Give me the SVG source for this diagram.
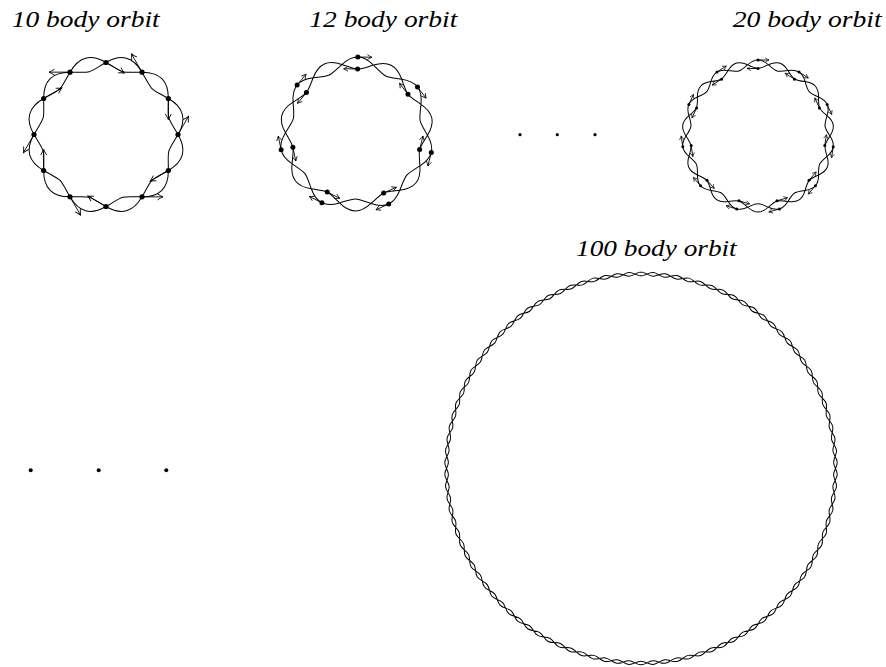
<svg xmlns="http://www.w3.org/2000/svg" width="886" height="667" viewBox="0 0 886 667">
<style>
.lbl{font-family:"Liberation Serif","Times New Roman",serif;font-style:italic;font-size:24px;fill:#000}
.str{fill:none;stroke:#000;stroke-width:1}
.arr{stroke:#000;stroke-width:0.9;fill:none}
</style>
<defs>
<marker id="ah10" viewBox="-7 -4 8 8" refX="0" refY="0" markerWidth="8" markerHeight="8" markerUnits="userSpaceOnUse" orient="auto"><path d="M-5.5,-3 Q-2,-0.8 0,0 Q-2,0.8 -5.5,3" fill="none" stroke="#000" stroke-width="0.9"/></marker>
<marker id="ah12" viewBox="-6 -3.5 7 7" refX="0" refY="0" markerWidth="7" markerHeight="7" markerUnits="userSpaceOnUse" orient="auto"><path d="M-4.5,-2.5 Q-1.6,-0.7 0,0 Q-1.6,0.7 -4.5,2.5" fill="none" stroke="#000" stroke-width="0.8"/></marker>
<marker id="ah20" viewBox="-5 -3 6 6" refX="0" refY="0" markerWidth="6" markerHeight="6" markerUnits="userSpaceOnUse" orient="auto"><path d="M-3.8,-2.2 Q-1.4,-0.6 0,0 Q-1.4,0.6 -3.8,2.2" fill="none" stroke="#000" stroke-width="0.7"/></marker>
<path id="s10" class="str" d="M-18.635,-69.547 C-6.145,-82.151 6.145,-82.151 18.635,-69.547 M-18.635,-69.547 C3.59,-63.484 -3.59,-63.484 18.635,-69.547"/>
<path id="s12" class="str" d="M-15.80,-69.22 C-4.86,-79.593 4.86,-79.593 15.80,-69.22 M-15.80,-69.22 C1.78,-63.593 -1.78,-63.593 15.80,-69.22"/>
<path id="s20" class="str" d="M-10.25,-71.27 C-2.9,-77.6 2.9,-77.6 10.25,-71.27 M-10.25,-71.27 C-0.6,-66.6 0.6,-66.6 10.25,-71.27"/>
<path id="s100" class="str" d="M-5.990,-194.408 C-1.045,-196.931 1.045,-196.931 5.990,-194.408 M-5.990,-194.408 C-0.756,-192.131 0.756,-192.131 5.990,-194.408"/>
<g id="g6">
<use href="#s100"/>
<use href="#s100" transform="rotate(3.5294)"/>
<use href="#s100" transform="rotate(7.0588)"/>
<use href="#s100" transform="rotate(10.5882)"/>
<use href="#s100" transform="rotate(14.1176)"/>
<use href="#s100" transform="rotate(17.6471)"/>
</g>
</defs>
<rect width="886" height="667" fill="#fff"/>

<g id="orbit10">
<text class="lbl" x="11.7" y="26.7" textLength="148" lengthAdjust="spacingAndGlyphs">10 body orbit</text>
<g transform="translate(106,134.5)">
<use href="#s10" transform="rotate(15)"/><use href="#s10" transform="rotate(45)"/><use href="#s10" transform="rotate(75)"/><use href="#s10" transform="rotate(105)"/>
<use href="#s10" transform="rotate(135)"/><use href="#s10" transform="rotate(165)"/><use href="#s10" transform="rotate(195)"/><use href="#s10" transform="rotate(225)"/>
<use href="#s10" transform="rotate(255)"/><use href="#s10" transform="rotate(285)"/><use href="#s10" transform="rotate(315)"/><use href="#s10" transform="rotate(345)"/>
</g>
<g class="arr" marker-end="url(#ah10)">
<line x1="106" y1="62.5" x2="124.19" y2="73"/>
<line x1="142" y1="72.15" x2="131.5" y2="53.96"/>
<line x1="168.35" y1="98.5" x2="168.35" y2="119.5"/>
<line x1="178" y1="134.5" x2="188.5" y2="116.31"/>
<line x1="168.35" y1="170.5" x2="150.16" y2="181"/>
<line x1="142" y1="196.85" x2="163" y2="196.85"/>
<line x1="106" y1="206.5" x2="87.81" y2="196"/>
<line x1="70" y1="196.85" x2="80.5" y2="215.04"/>
<line x1="43.65" y1="170.5" x2="43.65" y2="149.5"/>
<line x1="34" y1="134.5" x2="23.5" y2="152.69"/>
<line x1="43.65" y1="98.5" x2="61.84" y2="88"/>
<line x1="70" y1="72.15" x2="49" y2="72.15"/>
</g>
<g fill="#000">
<circle cx="106" cy="62.5" r="2.6"/><circle cx="142" cy="72.15" r="2.6"/><circle cx="168.35" cy="98.5" r="2.6"/><circle cx="178" cy="134.5" r="2.6"/>
<circle cx="168.35" cy="170.5" r="2.6"/><circle cx="142" cy="196.85" r="2.6"/><circle cx="106" cy="206.5" r="2.6"/><circle cx="70" cy="196.85" r="2.6"/>
<circle cx="43.65" cy="170.5" r="2.6"/><circle cx="34" cy="134.5" r="2.6"/><circle cx="43.65" cy="98.5" r="2.6"/><circle cx="70" cy="72.15" r="2.6"/>
</g>
</g>

<g id="orbit12">
<text class="lbl" x="309.3" y="26.7" textLength="148" lengthAdjust="spacingAndGlyphs">12 body orbit</text>
<g transform="translate(356.5,134)">
<use href="#s12" transform="rotate(1)"/><use href="#s12" transform="rotate(26.714)"/><use href="#s12" transform="rotate(52.429)"/><use href="#s12" transform="rotate(78.143)"/>
<use href="#s12" transform="rotate(103.857)"/><use href="#s12" transform="rotate(129.571)"/><use href="#s12" transform="rotate(155.286)"/><use href="#s12" transform="rotate(181)"/>
<use href="#s12" transform="rotate(206.714)"/><use href="#s12" transform="rotate(232.429)"/><use href="#s12" transform="rotate(258.143)"/><use href="#s12" transform="rotate(283.857)"/>
<use href="#s12" transform="rotate(309.571)"/><use href="#s12" transform="rotate(335.286)"/>
</g>
<g class="arr" marker-end="url(#ah12)">
<line x1="357.84" y1="57.01" x2="371.84" y2="57.25"/>
<line x1="417.53" y1="87.05" x2="426.07" y2="98.15"/>
<line x1="431.26" y1="152.44" x2="427.91" y2="166.03"/>
<line x1="388.69" y1="203.95" x2="375.97" y2="209.8"/>
<line x1="321.89" y1="202.78" x2="309.38" y2="196.49"/>
<line x1="281.14" y1="149.82" x2="278.26" y2="136.12"/>
<line x1="297.15" y1="84.95" x2="306.07" y2="74.16"/>
<line x1="357.63" y1="69.01" x2="343.63" y2="68.77"/>
<line x1="408.02" y1="94.37" x2="399.48" y2="83.27"/>
<line x1="419.61" y1="149.57" x2="422.96" y2="135.98"/>
<line x1="383.67" y1="193.05" x2="396.39" y2="187.2"/>
<line x1="327.28" y1="192.06" x2="339.79" y2="198.35"/>
<line x1="292.88" y1="147.36" x2="295.76" y2="161.06"/>
<line x1="306.4" y1="92.59" x2="297.48" y2="103.38"/>
</g>
<g fill="#000">
<circle cx="357.84" cy="57.01" r="2.5"/><circle cx="417.53" cy="87.05" r="2.5"/><circle cx="431.26" cy="152.44" r="2.5"/><circle cx="388.69" cy="203.95" r="2.5"/>
<circle cx="321.89" cy="202.78" r="2.5"/><circle cx="281.14" cy="149.82" r="2.5"/><circle cx="297.15" cy="84.95" r="2.5"/>
<circle cx="357.63" cy="69.01" r="2.5"/><circle cx="408.02" cy="94.37" r="2.5"/><circle cx="419.61" cy="149.57" r="2.5"/><circle cx="383.67" cy="193.05" r="2.5"/>
<circle cx="327.28" cy="192.06" r="2.5"/><circle cx="292.88" cy="147.36" r="2.5"/><circle cx="306.4" cy="92.59" r="2.5"/>
</g>
</g>

<g id="dots-top" fill="#000">
<circle cx="520" cy="134.7" r="1.6"/><circle cx="557.3" cy="134.7" r="1.6"/><circle cx="595" cy="134.7" r="1.6"/>
</g>

<g id="orbit20">
<text class="lbl" x="732.7" y="26.7" textLength="149" lengthAdjust="spacingAndGlyphs">20 body orbit</text>
<g transform="translate(758,136)">
<use href="#s20"/><use href="#s20" transform="rotate(16.364)"/><use href="#s20" transform="rotate(32.727)"/><use href="#s20" transform="rotate(49.091)"/>
<use href="#s20" transform="rotate(65.455)"/><use href="#s20" transform="rotate(81.818)"/><use href="#s20" transform="rotate(98.182)"/><use href="#s20" transform="rotate(114.545)"/>
<use href="#s20" transform="rotate(130.909)"/><use href="#s20" transform="rotate(147.273)"/><use href="#s20" transform="rotate(163.636)"/><use href="#s20" transform="rotate(180)"/>
<use href="#s20" transform="rotate(196.364)"/><use href="#s20" transform="rotate(212.727)"/><use href="#s20" transform="rotate(229.091)"/><use href="#s20" transform="rotate(245.455)"/>
<use href="#s20" transform="rotate(261.818)"/><use href="#s20" transform="rotate(278.182)"/><use href="#s20" transform="rotate(294.545)"/><use href="#s20" transform="rotate(310.909)"/>
<use href="#s20" transform="rotate(327.273)"/><use href="#s20" transform="rotate(343.636)"/>
</g>
<g class="arr" marker-end="url(#ah20)" stroke-width="0.8">
<line x1="758" y1="60" x2="769" y2="60"/>
<line x1="799" y1="72" x2="808.3" y2="78"/>
<line x1="827.1" y1="104.4" x2="831.7" y2="114.4"/>
<line x1="833.2" y1="146.8" x2="831.6" y2="157.7"/>
<line x1="815.4" y1="185.8" x2="808.2" y2="194.1"/>
<line x1="779.4" y1="208.9" x2="768.8" y2="212"/>
<line x1="736.6" y1="208.9" x2="726.1" y2="205.8"/>
<line x1="700.6" y1="185.8" x2="693.4" y2="177.5"/>
<line x1="682.8" y1="146.8" x2="681.2" y2="135.9"/>
<line x1="688.9" y1="104.4" x2="693.5" y2="94.4"/>
<line x1="717" y1="72" x2="726.3" y2="66"/>
<line x1="758" y1="68.5" x2="747" y2="68.5"/>
<line x1="794.5" y1="79.2" x2="785.2" y2="73.3"/>
<line x1="819.4" y1="107.9" x2="814.8" y2="97.9"/>
<line x1="824.8" y1="145.6" x2="826.4" y2="134.7"/>
<line x1="809" y1="180.2" x2="816.2" y2="171.9"/>
<line x1="777" y1="200.8" x2="787.6" y2="197.7"/>
<line x1="739" y1="200.8" x2="749.6" y2="203.9"/>
<line x1="707" y1="180.2" x2="714.2" y2="188.5"/>
<line x1="691.2" y1="145.6" x2="692.8" y2="156.5"/>
<line x1="696.6" y1="107.9" x2="692" y2="117.9"/>
<line x1="721.5" y1="79.2" x2="712.2" y2="85.1"/>
</g>
<g fill="#000">
<circle cx="758" cy="60" r="1.5"/><circle cx="799" cy="72" r="1.5"/><circle cx="827.1" cy="104.4" r="1.5"/><circle cx="833.2" cy="146.8" r="1.5"/>
<circle cx="815.4" cy="185.8" r="1.5"/><circle cx="779.4" cy="208.9" r="1.5"/><circle cx="736.6" cy="208.9" r="1.5"/><circle cx="700.6" cy="185.8" r="1.5"/>
<circle cx="682.8" cy="146.8" r="1.5"/><circle cx="688.9" cy="104.4" r="1.5"/><circle cx="717" cy="72" r="1.5"/>
<circle cx="758" cy="68.5" r="1.5"/><circle cx="794.5" cy="79.2" r="1.5"/><circle cx="819.4" cy="107.9" r="1.5"/><circle cx="824.8" cy="145.6" r="1.5"/>
<circle cx="809" cy="180.2" r="1.5"/><circle cx="777" cy="200.8" r="1.5"/><circle cx="739" cy="200.8" r="1.5"/><circle cx="707" cy="180.2" r="1.5"/>
<circle cx="691.2" cy="145.6" r="1.5"/><circle cx="696.6" cy="107.9" r="1.5"/><circle cx="721.5" cy="79.2" r="1.5"/>
</g>
</g>

<g id="orbit100">
<text class="lbl" x="576" y="256" textLength="160.7" lengthAdjust="spacingAndGlyphs">100 body orbit</text>
<g transform="translate(641,468.5)">
<use href="#g6"/><use href="#g6" transform="rotate(21.176)"/><use href="#g6" transform="rotate(42.353)"/><use href="#g6" transform="rotate(63.529)"/>
<use href="#g6" transform="rotate(84.706)"/><use href="#g6" transform="rotate(105.882)"/><use href="#g6" transform="rotate(127.059)"/><use href="#g6" transform="rotate(148.235)"/>
<use href="#g6" transform="rotate(169.412)"/><use href="#g6" transform="rotate(190.588)"/><use href="#g6" transform="rotate(211.765)"/><use href="#g6" transform="rotate(232.941)"/>
<use href="#g6" transform="rotate(254.118)"/><use href="#g6" transform="rotate(275.294)"/><use href="#g6" transform="rotate(296.471)"/><use href="#g6" transform="rotate(317.647)"/>
<use href="#g6" transform="rotate(338.824)"/>
</g>
</g>

<g id="dots-bottom" fill="#000">
<circle cx="30.7" cy="470.3" r="2"/><circle cx="98.7" cy="470.3" r="2"/><circle cx="166.3" cy="470.3" r="2"/>
</g>
</svg>
